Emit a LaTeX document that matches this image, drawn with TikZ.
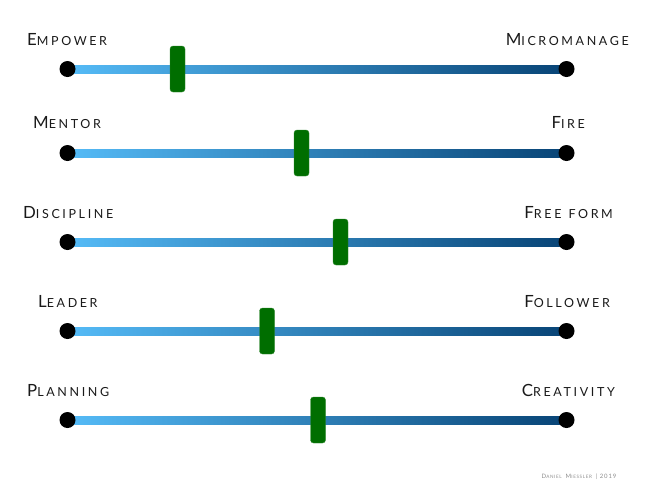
\documentclass[tikz,border=0pt]{standalone}
\usepackage{fontspec}
\setmainfont{Lato}
\usetikzlibrary{backgrounds,calc}
\definecolor{barlight}{RGB}{85,187,247}
\definecolor{bardark}{RGB}{8,68,118}
\definecolor{knob}{RGB}{0,110,0}
\definecolor{labeltext}{RGB}{25,25,25}
\newcommand\smc[2]{{\fontsize{16.8}{16.8}\selectfont #1}{\fontsize{12.5}{12.5}\selectfont #2}}
\newcommand\tinysmc[2]{{\fontsize{6}{6}\selectfont #1}{\fontsize{4.6}{4.6}\selectfont #2}}
\tikzset{
  enddot/.style={circle,fill=black,inner sep=0pt,minimum size=16pt},
  knobbox/.style={rectangle,rounded corners=3pt,fill=knob,draw=knob!80!white,line width=0.4pt,inner sep=0pt,minimum width=15pt,minimum height=46pt},
  lbl/.style={font=\addfontfeatures{LetterSpace=21},text=labeltext,inner sep=0pt},
  barshade/.style={left color=barlight,right color=bardark}
}
\begin{document}
\begin{tikzpicture}[x=1pt,y=-1pt]
\useasboundingbox (0,0) rectangle (650,499);
% rows
\foreach \i/\y/\kx/\lx/\rx/\lb/\ltxt/\rtxt in {
  1/69/177.5/27/629/45/{\smc{E}{MPOWER}}/{\smc{M}{ICROMANAGE}},
  2/153/301.5/33/585/128/{\smc{M}{ENTOR}}/{\smc{F}{IRE}},
  3/242/340.5/23/613/218/{\smc{D}{ISCIPLINE}}/{\smc{F}{REE\hspace{7pt}FORM}},
  4/331/267/38/610/307/{\smc{L}{EADER}}/{\smc{F}{OLLOWER}},
  5/420/318/27/615/396/{\smc{P}{LANNING}}/{\smc{C}{REATIVITY}}}{
  \node[enddot] (l\i) at (67.5,\y) {};
  \node[enddot] (r\i) at (566.5,\y) {};
  \begin{scope}[on background layer]
    \shade[barshade] ($(l\i)+(0,-4)$) rectangle ($(r\i)+(0,4)$);
  \end{scope}
  \node[knobbox] (k\i) at (\kx,\y) {};
  \node[lbl,anchor=base west] (a\i) at (\lx,\lb) {\ltxt};
  \node[lbl,anchor=base east] (b\i) at (\rx,\lb) {\rtxt};
}
\node[font=\addfontfeatures{LetterSpace=14},text=black!45,inner sep=0pt,anchor=base] (credit) at (579,478) {\tinysmc{D}{ANIEL} \tinysmc{M}{IESSLER} {\fontsize{6}{6}\selectfont |\ 2019}};
\end{tikzpicture}
\end{document}
